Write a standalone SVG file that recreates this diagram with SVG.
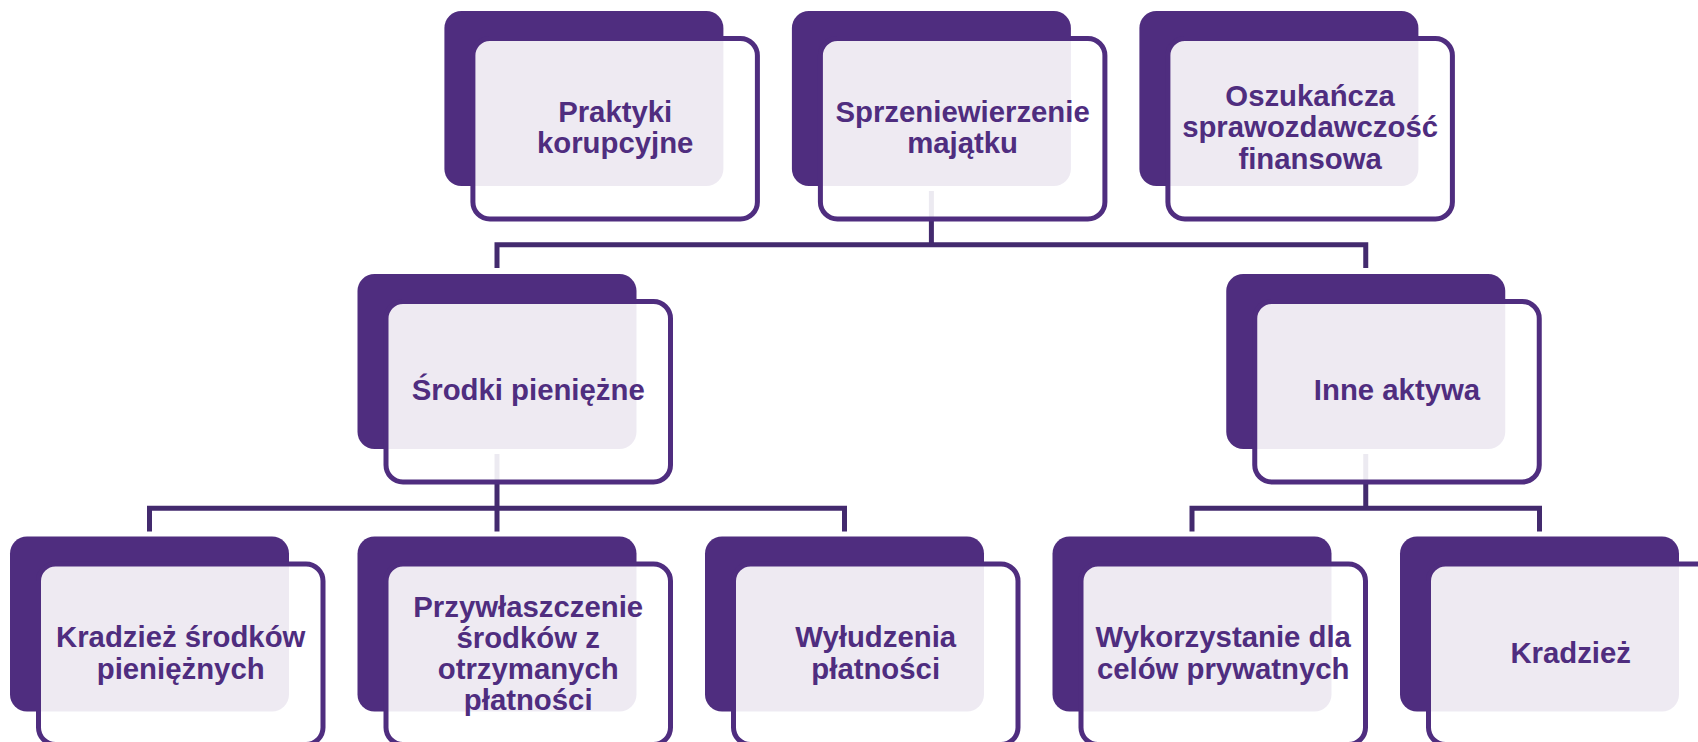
<svg xmlns="http://www.w3.org/2000/svg" width="1698" height="742" viewBox="0 0 1698 742">
<style>
.bg{fill:#ffffff}
.dk{fill:#4F2D7F}
.ol{fill:#ffffff;fill-opacity:0.9;stroke:#4F2D7F;stroke-width:5}
.cn{fill:none;stroke:#432A6E;stroke-width:5;stroke-linejoin:miter}
.tx{font-family:"Liberation Sans",Arial,sans-serif;font-weight:bold;font-size:29.33px;fill:#4F2D7F;text-anchor:middle}
</style>
<rect class="bg" x="0" y="0" width="1698" height="742"/>
<g id="connectors">
<path class="cn" d="M497 268 V244.8 H1365.75 V268 M931.4 191 V244.8"/>
<path class="cn" d="M149.5 531.5 V508.3 H844.5 V531.5 M497 454 V531.5"/>
<path class="cn" d="M1192 531.5 V508.3 H1539.5 V531.5 M1365.75 454 V508.3"/>
</g>
<g id="n1">
<rect class="dk" x="444.4" y="11" width="279" height="175" rx="17"/>
<rect class="ol" x="472.9" y="38.5" width="284.5" height="180.5" rx="17"/>
<text class="tx" x="615.2"><tspan x="615.2" y="121.5">Praktyki</tspan><tspan x="615.2" y="153">korupcyjne</tspan></text>
</g>
<g id="n2">
<rect class="dk" x="791.9" y="11" width="279" height="175" rx="17"/>
<rect class="ol" x="820.4" y="38.5" width="284.5" height="180.5" rx="17"/>
<text class="tx" x="962.6"><tspan x="962.6" y="121.5">Sprzeniewierzenie</tspan><tspan x="962.6" y="153">majątku</tspan></text>
</g>
<g id="n3">
<rect class="dk" x="1139.4" y="11" width="279" height="175" rx="17"/>
<rect class="ol" x="1167.9" y="38.5" width="284.5" height="180.5" rx="17"/>
<text class="tx" x="1310.1"><tspan x="1310.1" y="105.75">Oszukańcza</tspan><tspan x="1310.1" y="137.25">sprawozdawczość</tspan><tspan x="1310.1" y="168.75">finansowa</tspan></text>
</g>
<g id="n4">
<rect class="dk" x="357.5" y="274" width="279" height="175" rx="17"/>
<rect class="ol" x="386" y="301.5" width="284.5" height="180.5" rx="17"/>
<text class="tx" x="528.2" y="400">Środki pieniężne</text>
</g>
<g id="n5">
<rect class="dk" x="1226.25" y="274" width="279" height="175" rx="17"/>
<rect class="ol" x="1254.75" y="301.5" width="284.5" height="180.5" rx="17"/>
<text class="tx" x="1397" y="400">Inne aktywa</text>
</g>
<g id="n6">
<rect class="dk" x="10" y="536.5" width="279" height="175" rx="17"/>
<rect class="ol" x="38.5" y="564" width="284.5" height="180.5" rx="17"/>
<text class="tx" x="180.7"><tspan x="180.7" y="647">Kradzież środków</tspan><tspan x="180.7" y="678.5">pieniężnych</tspan></text>
</g>
<g id="n7">
<rect class="dk" x="357.5" y="536.5" width="279" height="175" rx="17"/>
<rect class="ol" x="386" y="564" width="284.5" height="180.5" rx="17"/>
<text class="tx" x="528.2"><tspan x="528.2" y="616.5">Przywłaszczenie</tspan><tspan x="528.2" y="647.5">środków z</tspan><tspan x="528.2" y="678.5">otrzymanych</tspan><tspan x="528.2" y="709.5">płatności</tspan></text>
</g>
<g id="n8">
<rect class="dk" x="705" y="536.5" width="279" height="175" rx="17"/>
<rect class="ol" x="733.5" y="564" width="284.5" height="180.5" rx="17"/>
<text class="tx" x="875.7"><tspan x="875.7" y="647">Wyłudzenia</tspan><tspan x="875.7" y="678.5">płatności</tspan></text>
</g>
<g id="n9">
<rect class="dk" x="1052.5" y="536.5" width="279" height="175" rx="17"/>
<rect class="ol" x="1081" y="564" width="284.5" height="180.5" rx="17"/>
<text class="tx" x="1223.2"><tspan x="1223.2" y="647">Wykorzystanie dla</tspan><tspan x="1223.2" y="678.5">celów prywatnych</tspan></text>
</g>
<g id="n10">
<rect class="dk" x="1400" y="536.5" width="279" height="175" rx="17"/>
<rect class="ol" x="1428.5" y="564" width="284.5" height="180.5" rx="17"/>
<text class="tx" x="1570.7" y="662.75">Kradzież</text>
</g>
</svg>
